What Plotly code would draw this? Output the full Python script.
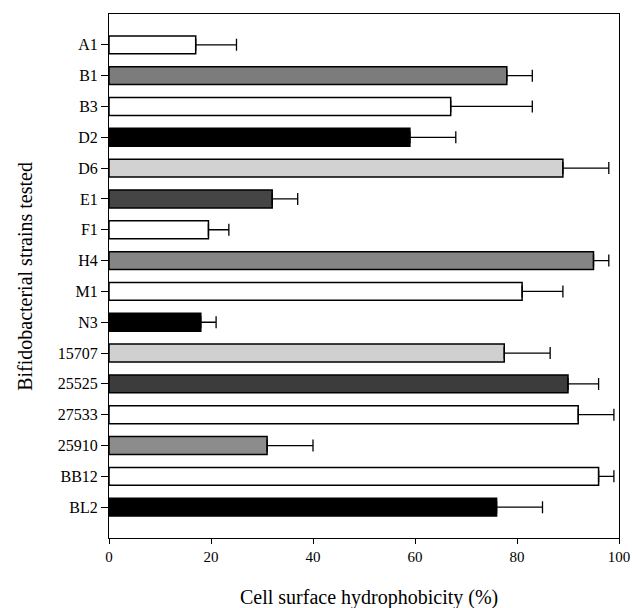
import plotly.graph_objects as go

strains = ["A1", "B1", "B3", "D2", "D6", "E1", "F1", "H4", "M1", "N3",
           "15707", "25525", "27533", "25910", "BB12", "BL2"]
hydrophobicity = [17, 78, 67, 59, 89, 32, 19.5, 95, 81, 18,
                  77.5, 90, 92, 31, 96, 76]
errors = [8, 5, 16, 9, 9, 5, 4, 3, 8, 3,
          9, 6, 7, 9, 3, 9]
colors = ["#ffffff", "#7c7c7c", "#ffffff", "#000000", "#d2d2d2", "#454545",
          "#ffffff", "#858585", "#ffffff", "#000000", "#d0d0d0", "#3c3c3c",
          "#ffffff", "#8c8c8c", "#ffffff", "#000000"]
x_ticks = [0, 20, 40, 60, 80, 100]

font = "Liberation Serif, Times New Roman, serif"

fig = go.Figure()
fig.add_trace(go.Bar(
    x=hydrophobicity,
    y=strains,
    orientation="h",
    width=0.58,
    marker=dict(color=colors, line=dict(color="black", width=1.5)),
    error_x=dict(type="data", array=errors, arrayminus=[0] * len(errors),
                 symmetric=False, color="black", thickness=1.3, width=6),
    showlegend=False,
    hoverinfo="skip",
))

fig.update_layout(
    width=632, height=608,
    margin=dict(l=109, r=13, t=14, b=70),
    plot_bgcolor="white", paper_bgcolor="white",
    font=dict(family=font, color="black", size=15),
    annotations=[
        dict(text="Cell surface hydrophobicity (%)", xref="paper", yref="paper",
             x=0.51, y=-0.113, xanchor="center", yanchor="middle",
             showarrow=False, font=dict(size=20, family=font)),
        dict(text="Bifidobacterial strains tested", xref="paper", yref="paper",
             x=-0.165, y=0.5, xanchor="center", yanchor="middle", textangle=-90,
             showarrow=False, font=dict(size=20, family=font)),
    ],
)
fig.update_xaxes(
    range=[0, 100], tickvals=x_ticks, ticks="outside", ticklen=5,
    tickwidth=1, tickcolor="black", showline=True, linecolor="black",
    linewidth=1, mirror=True, showgrid=False, zeroline=False,
    tickfont=dict(size=15, family=font), automargin=False,
)
fig.update_yaxes(
    categoryorder="array", categoryarray=strains,
    range=[16, -1], ticks="outside", ticklen=7, tickwidth=1,
    tickcolor="black", showline=True, linecolor="black", linewidth=1,
    mirror=True, showgrid=False, zeroline=False,
    tickfont=dict(size=16, family=font), automargin=False,
)

fig.write_html("out.html", config={"displayModeBar": False},
               post_script="document.body.style.margin='0';")
